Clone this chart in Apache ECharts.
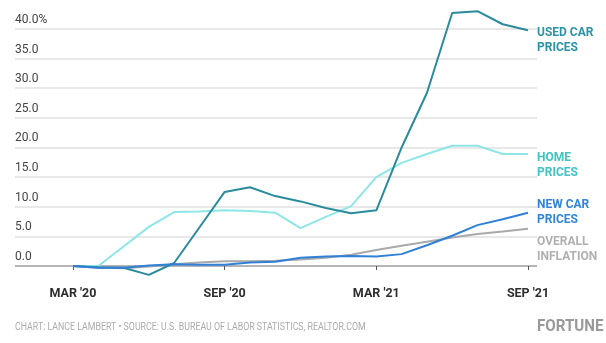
<!DOCTYPE html>
<html>
<head>
<meta charset="utf-8">
<script src="https://cdn.jsdelivr.net/npm/echarts@6/dist/echarts.min.js"></script>
<style>
html,body{margin:0;padding:0;background:#fff;}
#chart{width:606px;height:343px;}
</style>
</head>
<body>
<div id="chart"></div>
<script>
// Month index 0 = Mar 2020 ... 18 = Sep 2021
const months = ["Mar '20","Apr '20","May '20","Jun '20","Jul '20","Aug '20","Sep '20","Oct '20","Nov '20","Dec '20","Jan '21","Feb '21","Mar '21","Apr '21","May '21","Jun '21","Jul '21","Aug '21","Sep '21"];
const usedCar  = [0, -0.2, -0.3, -1.5, 0.5, 6.5, 12.5, 13.3, 11.8, 10.9, 9.8, 8.9, 9.4, 20.0, 29.2, 42.7, 43.0, 40.8, 39.8];
const home     = [0, 0, 3.3, 6.6, 9.1, 9.2, 9.4, 9.3, 9.0, 6.4, 8.3, 10.1, 15.0, 17.4, 18.9, 20.3, 20.3, 18.9, 18.9];
const newCar   = [0, -0.3, -0.3, 0.1, 0.3, 0.2, 0.2, 0.6, 0.7, 1.4, 1.6, 1.7, 1.6, 2.0, 3.5, 5.1, 6.9, 7.9, 9.0];
const overall  = [0, -0.3, -0.4, -0.1, 0.3, 0.6, 0.8, 0.8, 0.9, 1.1, 1.4, 1.9, 2.7, 3.4, 4.1, 4.8, 5.4, 5.8, 6.3];
const tickIdx    = [0, 6, 12, 18];
const tickLabels = ["MAR '20", "SEP '20", "MAR '21", "SEP '21"];
const seriesNames = ["USED CAR\nPRICES", "HOME\nPRICES", "NEW CAR\nPRICES", "OVERALL\nINFLATION"];
const footerText = "CHART: LANCE LAMBERT \u2022 SOURCE: U.S. BUREAU OF LABOR STATISTICS, REALTOR.COM";
const brandText = "FORTUNE";

const toPairs = arr => arr.map((v, i) => [i, v]);

const chart = echarts.init(document.getElementById('chart'), null, {renderer: 'canvas'});

const lineColors  = ['#2a8b9c', '#8ee6e6', '#2f80d6', '#a9a9a9'];
const labelColors = ['#2b93a8', '#3fc3c3', '#2f86d8', '#b0b0b0'];
const labelOffsets = [[0, 10], [0, 11], [0, 0], [0, 21]];
const datasets = [usedCar, home, newCar, overall];
const zOrder = [4, 2, 5, 3];

const series = datasets.map((d, k) => ({
  type: 'line',
  name: seriesNames[k],
  data: toPairs(d),
  symbol: 'none',
  clip: false,
  z: zOrder[k],
  lineStyle: {color: lineColors[k], width: 2},
  endLabel: {
    show: true,
    formatter: p => p.seriesName,
    color: labelColors[k],
    fontFamily: 'Roboto, sans-serif',
    fontWeight: 'bold',
    fontSize: 12,
    lineHeight: 15,
    distance: 9,
    offset: labelOffsets[k],
    align: 'left'
  },
  emphasis: {disabled: true}
}));

const gridColors = ['rgba(0,0,0,0)', '#9c9c9c', '#e0e0e0', '#e0e0e0', '#e0e0e0', '#e0e0e0', '#e0e0e0', '#e0e0e0', '#e0e0e0', '#e0e0e0'];

chart.setOption({
  animation: false,
  backgroundColor: '#ffffff',
  grid: {left: 15, right: 69, top: 29, bottom: 47.4, containLabel: false},
  xAxis: {
    type: 'value',
    min: -2.2945,
    max: 18.356,
    offset: -18.6,
    axisLine: {show: false},
    splitLine: {show: false},
    axisTick: {show: true, length: 4, customValues: tickIdx, lineStyle: {color: '#555', width: 1}},
    axisLabel: {
      customValues: tickIdx,
      formatter: v => tickLabels[tickIdx.indexOf(Math.round(v))] || '',
      color: '#2e2e2e',
      fontFamily: 'Roboto, sans-serif',
      fontWeight: 'bold',
      fontSize: 12.5,
      margin: 10
    }
  },
  yAxis: {
    type: 'value',
    min: -5,
    max: 40,
    interval: 5,
    axisLine: {show: false},
    axisTick: {show: false},
    splitLine: {show: true, lineStyle: {color: gridColors, width: 1.5}},
    axisLabel: {
      inside: true,
      margin: 0,
      verticalAlign: 'bottom',
      padding: [0, 0, 3, 0],
      color: '#444',
      fontFamily: 'Roboto, sans-serif',
      fontSize: 12,
      formatter: v => v < 0 ? '' : (v === 40 ? v.toFixed(1) + '%' : v.toFixed(1))
    }
  },
  graphic: [
    {type: 'text', left: 15, top: 322, scaleX: 0.8, style: {text: footerText, fill: '#ababab', font: '11px Roboto, sans-serif'}},
    {type: 'text', left: 537, top: 318, scaleX: 0.89, style: {text: brandText, fill: '#999', font: 'bold 17px Roboto, sans-serif'}}
  ],
  series: series
});
</script>
</body>
</html>
